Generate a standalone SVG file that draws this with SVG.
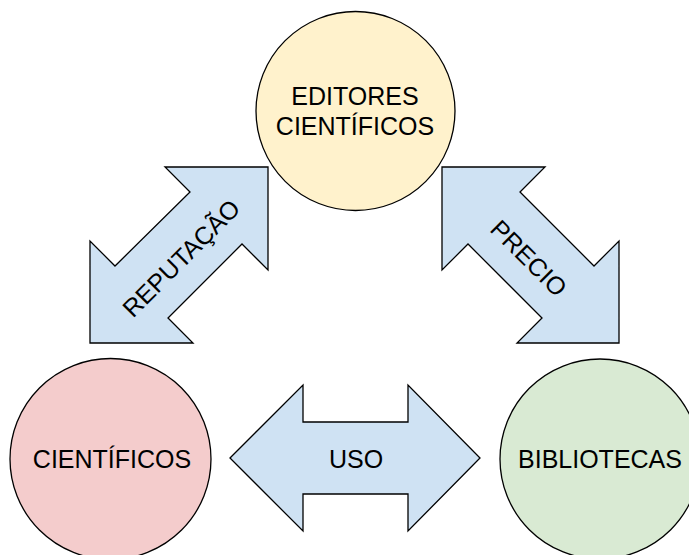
<svg xmlns="http://www.w3.org/2000/svg" width="689" height="555" viewBox="0 0 689 555">
<style>
.node{stroke:#000;stroke-width:1.3}
.arrow{fill:#cfe2f3;stroke:#000;stroke-width:1.3;stroke-linejoin:miter}
text{font-family:"Liberation Sans",Arial,sans-serif;font-size:25px;fill:#000;text-anchor:middle}
</style>
<rect width="689" height="555" fill="#fff"/>
<g id="connectors">
<g id="reputacao">
<polygon class="arrow" points="268,167 165,167 190,192 115,266 90,241 90,343 193,343 168,318 242,244 268,270"/>
<text transform="translate(181,258) rotate(-45)" y="9">REPUTAÇÃO</text>
</g>
<g id="precio">
<polygon class="arrow" points="442,167 545,167 520,192 594,266 619,241 619,343 517,343 542,318 468,244 442,270"/>
<text transform="translate(529,258) rotate(45)" y="9">PRECIO</text>
</g>
<g id="uso">
<polygon class="arrow" points="230,458 303,385 303,422 408,422 408,385 480,458 408,531 408,494 303,494 303,531"/>
<text x="356" y="468">USO</text>
</g>
</g>
<g id="editores">
<circle class="node" cx="355.5" cy="111" r="99.5" fill="#fff2cc"/>
<text x="355" y="105">EDITORES</text>
<text x="355" y="135">CIENTÍFICOS</text>
</g>
<g id="cientificos">
<circle class="node" cx="110.5" cy="459" r="100.5" fill="#f4cccc"/>
<text x="112" y="468">CIENTÍFICOS</text>
</g>
<g id="bibliotecas">
<circle class="node" cx="600" cy="459" r="100" fill="#d9ead3"/>
<text x="600" y="468">BIBLIOTECAS</text>
</g>
</svg>
